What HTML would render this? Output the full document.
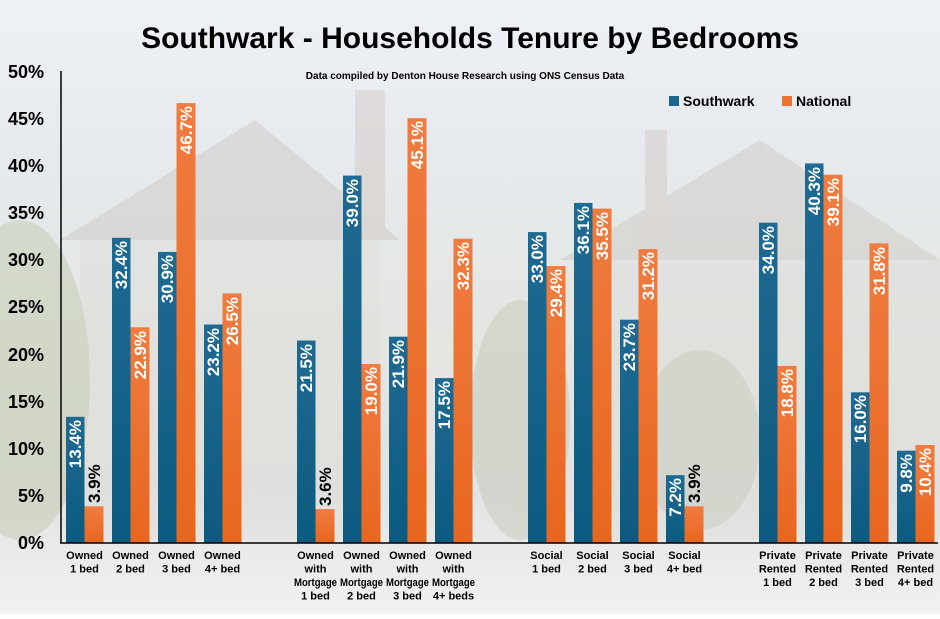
<!DOCTYPE html>
<html><head><meta charset="utf-8"><style>
body{margin:0;width:940px;height:614px;overflow:hidden;font-family:"Liberation Sans",sans-serif}
</style></head><body>
<svg width="940" height="614" xmlns="http://www.w3.org/2000/svg" font-family="Liberation Sans, sans-serif">
<defs>
<linearGradient id="bg" x1="0" y1="0" x2="0" y2="1">
<stop offset="0" stop-color="#eef2f6"/><stop offset="0.25" stop-color="#e6eaee"/>
<stop offset="0.55" stop-color="#e4e6e2"/><stop offset="0.8" stop-color="#e2e3e2"/><stop offset="1" stop-color="#f1f1f1"/>
</linearGradient>
<linearGradient id="bl" x1="0" y1="0" x2="0" y2="1"><stop offset="0" stop-color="#1f6a92"/><stop offset="1" stop-color="#0c5a80"/></linearGradient>
<linearGradient id="or" x1="0" y1="0" x2="0" y2="1"><stop offset="0" stop-color="#f07c40"/><stop offset="1" stop-color="#e8661f"/></linearGradient>
</defs>
<rect width="940" height="614" fill="url(#bg)"/>
<g opacity="0.25">
<polygon points="60,240 255,120 400,240" fill="#b9aaa0"/>
<rect x="80" y="240" width="300" height="300" fill="#d8d6d0"/>
<polygon points="560,260 760,140 940,260" fill="#b9aaa0"/>
<rect x="580" y="260" width="360" height="280" fill="#d8d6d0"/>
<ellipse cx="20" cy="380" rx="70" ry="160" fill="#9fae7e"/>
<ellipse cx="520" cy="420" rx="50" ry="120" fill="#a5ad90"/>
<ellipse cx="700" cy="440" rx="60" ry="90" fill="#a5ad90"/>
<rect x="355" y="90" width="30" height="150" fill="#c0a898"/>
<rect x="645" y="130" width="22" height="110" fill="#c0a898"/>
</g>
<text x="470" y="48" text-anchor="middle" font-size="30" font-weight="bold" fill="#000">Southwark - Households Tenure by Bedrooms</text>
<text x="465" y="79" text-anchor="middle" font-size="10" font-weight="bold" fill="#000">Data compiled by Denton House Research using ONS Census Data</text>
<rect x="669" y="96" width="10" height="10" fill="#1a6690"/>
<text x="683" y="106" font-size="14" font-weight="bold">Southwark</text>
<rect x="782" y="96" width="10" height="10" fill="#ee7330"/>
<text x="796" y="106" font-size="14" font-weight="bold">National</text>
<g font-size="18" font-weight="bold" text-anchor="end">
<text x="44" y="549">0%</text><text x="44" y="502">5%</text><text x="44" y="455">10%</text>
<text x="44" y="408">15%</text><text x="44" y="361">20%</text><text x="44" y="313">25%</text>
<text x="44" y="266">30%</text><text x="44" y="219">35%</text><text x="44" y="172">40%</text>
<text x="44" y="125">45%</text><text x="44" y="78">50%</text>
</g>
<g>
<rect x="66" y="416.8" width="18.5" height="126.2" fill="url(#bl)"/>
<rect x="112" y="237.8" width="18.5" height="305.2" fill="url(#bl)"/>
<rect x="158" y="251.9" width="18.5" height="291.1" fill="url(#bl)"/>
<rect x="204" y="324.5" width="18.5" height="218.5" fill="url(#bl)"/>
<rect x="297" y="340.5" width="18.5" height="202.5" fill="url(#bl)"/>
<rect x="343" y="175.6" width="18.5" height="367.4" fill="url(#bl)"/>
<rect x="389" y="336.7" width="18.5" height="206.3" fill="url(#bl)"/>
<rect x="435" y="378.1" width="18.5" height="164.9" fill="url(#bl)"/>
<rect x="528" y="232.1" width="18.5" height="310.9" fill="url(#bl)"/>
<rect x="574" y="202.9" width="18.5" height="340.1" fill="url(#bl)"/>
<rect x="620" y="319.7" width="18.5" height="223.3" fill="url(#bl)"/>
<rect x="666" y="475.2" width="18.5" height="67.8" fill="url(#bl)"/>
<rect x="759" y="222.7" width="18.5" height="320.3" fill="url(#bl)"/>
<rect x="805" y="163.4" width="18.5" height="379.6" fill="url(#bl)"/>
<rect x="851" y="392.3" width="18.5" height="150.7" fill="url(#bl)"/>
<rect x="897" y="450.7" width="18.5" height="92.3" fill="url(#bl)"/>

<rect x="84.5" y="506.3" width="19" height="36.7" fill="url(#or)"/>
<rect x="130.5" y="327.3" width="19" height="215.7" fill="url(#or)"/>
<rect x="176.5" y="103.1" width="19" height="439.9" fill="url(#or)"/>
<rect x="222.5" y="293.4" width="19" height="249.6" fill="url(#or)"/>
<rect x="315.5" y="509.1" width="19" height="33.9" fill="url(#or)"/>
<rect x="361.5" y="364.0" width="19" height="179.0" fill="url(#or)"/>
<rect x="407.5" y="118.2" width="19" height="424.8" fill="url(#or)"/>
<rect x="453.5" y="238.7" width="19" height="304.3" fill="url(#or)"/>
<rect x="546.5" y="266.1" width="19" height="276.9" fill="url(#or)"/>
<rect x="592.5" y="208.6" width="19" height="334.4" fill="url(#or)"/>
<rect x="638.5" y="249.1" width="19" height="293.9" fill="url(#or)"/>
<rect x="684.5" y="506.3" width="19" height="36.7" fill="url(#or)"/>
<rect x="777.5" y="365.9" width="19" height="177.1" fill="url(#or)"/>
<rect x="823.5" y="174.7" width="19" height="368.3" fill="url(#or)"/>
<rect x="869.5" y="243.4" width="19" height="299.6" fill="url(#or)"/>
<rect x="915.5" y="445.0" width="19" height="98.0" fill="url(#or)"/>
</g>
<g font-size="17" font-weight="bold" fill="#fff" text-anchor="end">
<text transform="translate(81,420) rotate(-90)">13.4%</text>
<text transform="translate(127,241) rotate(-90)">32.4%</text>
<text transform="translate(173,255) rotate(-90)">30.9%</text>
<text transform="translate(219,328) rotate(-90)">23.2%</text>
<text transform="translate(312,344) rotate(-90)">21.5%</text>
<text transform="translate(358,179) rotate(-90)">39.0%</text>
<text transform="translate(404,340) rotate(-90)">21.9%</text>
<text transform="translate(450,381) rotate(-90)">17.5%</text>
<text transform="translate(543,235) rotate(-90)">33.0%</text>
<text transform="translate(589,206) rotate(-90)">36.1%</text>
<text transform="translate(635,323) rotate(-90)">23.7%</text>
<text transform="translate(681,478) rotate(-90)">7.2%</text>
<text transform="translate(774,226) rotate(-90)">34.0%</text>
<text transform="translate(820,167) rotate(-90)">40.3%</text>
<text transform="translate(866,395) rotate(-90)">16.0%</text>
<text transform="translate(912,454) rotate(-90)">9.8%</text>

<text transform="translate(146,331) rotate(-90)">22.9%</text>
<text transform="translate(192,106) rotate(-90)">46.7%</text>
<text transform="translate(238,297) rotate(-90)">26.5%</text>
<text transform="translate(377,367) rotate(-90)">19.0%</text>
<text transform="translate(423,121) rotate(-90)">45.1%</text>
<text transform="translate(469,242) rotate(-90)">32.3%</text>
<text transform="translate(562,269) rotate(-90)">29.4%</text>
<text transform="translate(608,212) rotate(-90)">35.5%</text>
<text transform="translate(654,252) rotate(-90)">31.2%</text>
<text transform="translate(793,369) rotate(-90)">18.8%</text>
<text transform="translate(839,178) rotate(-90)">39.1%</text>
<text transform="translate(885,247) rotate(-90)">31.8%</text>
<text transform="translate(931,448) rotate(-90)">10.4%</text>
</g>
<g font-size="17" font-weight="bold" fill="#000" text-anchor="start">
<text transform="translate(100,503) rotate(-90)">3.9%</text>
<text transform="translate(331,506) rotate(-90)">3.6%</text>
<text transform="translate(700,503) rotate(-90)">3.9%</text>
</g>
<line x1="61" y1="71" x2="61" y2="543" stroke="#000" stroke-width="1.5"/>
<line x1="60" y1="543" x2="938" y2="543" stroke="#000" stroke-width="1.5"/>
<g font-size="11" font-weight="bold" text-anchor="middle">
<text x="84.5" y="559">Owned</text><text x="84.5" y="572.5">1 bed</text>
<text x="130.5" y="559">Owned</text><text x="130.5" y="572.5">2 bed</text>
<text x="176.5" y="559">Owned</text><text x="176.5" y="572.5">3 bed</text>
<text x="222.5" y="559">Owned</text><text x="222.5" y="572.5">4+ bed</text>
<text x="315.5" y="559">Owned</text><text x="315.5" y="572.5">with</text><text x="315.5" y="586" textLength="43" lengthAdjust="spacingAndGlyphs">Mortgage</text><text x="315.5" y="599.5">1 bed</text>
<text x="361.5" y="559">Owned</text><text x="361.5" y="572.5">with</text><text x="361.5" y="586" textLength="43" lengthAdjust="spacingAndGlyphs">Mortgage</text><text x="361.5" y="599.5">2 bed</text>
<text x="407.5" y="559">Owned</text><text x="407.5" y="572.5">with</text><text x="407.5" y="586" textLength="43" lengthAdjust="spacingAndGlyphs">Mortgage</text><text x="407.5" y="599.5">3 bed</text>
<text x="453.5" y="559">Owned</text><text x="453.5" y="572.5">with</text><text x="453.5" y="586" textLength="43" lengthAdjust="spacingAndGlyphs">Mortgage</text><text x="453.5" y="599.5">4+ beds</text>
<text x="546.5" y="559">Social</text><text x="546.5" y="572.5">1 bed</text>
<text x="592.5" y="559">Social</text><text x="592.5" y="572.5">2 bed</text>
<text x="638.5" y="559">Social</text><text x="638.5" y="572.5">3 bed</text>
<text x="684.5" y="559">Social</text><text x="684.5" y="572.5">4+ bed</text>
<text x="777.5" y="559">Private</text><text x="777.5" y="572.5">Rented</text><text x="777.5" y="586">1 bed</text>
<text x="823.5" y="559">Private</text><text x="823.5" y="572.5">Rented</text><text x="823.5" y="586">2 bed</text>
<text x="869.5" y="559">Private</text><text x="869.5" y="572.5">Rented</text><text x="869.5" y="586">3 bed</text>
<text x="915.5" y="559">Private</text><text x="915.5" y="572.5">Rented</text><text x="915.5" y="586">4+ bed</text>
</g>
</svg>
</body></html>
